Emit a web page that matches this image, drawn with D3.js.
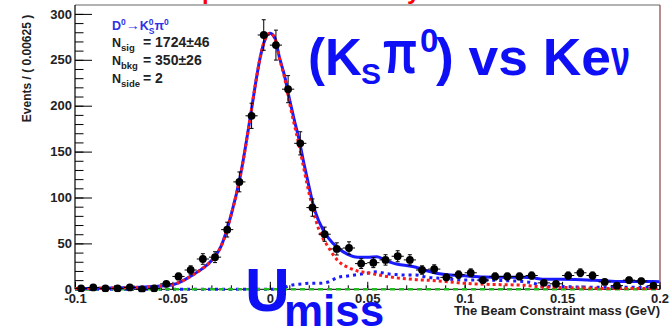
<!DOCTYPE html>
<html><head><meta charset="utf-8">
<script src="https://cdn.jsdelivr.net/npm/d3@7"></script>
<style>
body{margin:0;background:#fff;}
svg{display:block;font-family:"Liberation Sans",Arial,Helvetica,sans-serif;}
</style>
</head><body>
<svg id="c" width="670" height="333"></svg>
<script>
// ---------- data ----------
const binStart = -0.1;
const binWidth = 0.00625;
const counts = [1,2,1,1,2,0,1,6,14,21,33,35,65,117,189,277,266,218,159,89,60,44,45,28,29,32,36,32,21,22,13,16,18,10,14,14,14,15,7,6,15,18,15,8,4,10,9,4];

const curveX   = [-0.1,-0.09,-0.08,-0.07,-0.06,-0.05,-0.045,-0.04,-0.035,-0.03,-0.025,-0.02,-0.015,-0.01,-0.0075,-0.005,-0.0025,0,0.0025,0.005,0.0075,0.01,0.0125,0.015,0.0175,0.02,0.0225,0.025,0.03,0.035,0.04,0.045,0.05,0.055,0.06,0.065,0.07,0.075,0.08,0.09,0.1,0.11,0.12,0.13,0.135,0.14,0.15,0.16,0.17,0.18,0.19,0.2];
const totalFit = [1,1,1.5,2,3,5,9,15,22,31,47,80,125,188,222,252,272,279,274,252,233,208,185,163,137,113,90,75,56,45,38,35,35,35.5,31,27.5,26,24,20.5,16,14.7,13.5,13,13,12.5,11,11,10.5,9.5,8.5,8.5,8.3];
const signalFit= [1,1,1.5,2,3,5,9,15,22,31,47,80,125,188,222,252,272,279,274,251,231,204,180,157,131,106,84,66,46,31,24,20,18,16,14,12.5,11.5,10.5,10,8.5,6.5,5.5,5,4.5,3.5,2.5,2,1.5,1,1,1,1];
const bkgFit   = [0,0,0,0,0,0,0,0,0,0,0,0,0,0,0,0,0,0,0,0.5,2,4,5,5.5,6,6.5,6.5,6.5,8,13,14.5,16,17.5,19,17,16,15.5,15.5,13.5,11.5,10,10,9.5,8.5,7,3.6,3,2.5,2.2,2.2,2.2,2.2];
const flatX = [-0.1, 0.2];
const flatFit = [0, 0];

const xTicks = [-0.1,-0.05,0,0.05,0.1,0.15,0.2];
const xTickLabels = ["-0.1","-0.05","0","0.05","0.1","0.15","0.2"];
const yTicks = [0,50,100,150,200,250,300];
const yTickLabels = ["0","50","100","150","200","250","300"];

// ---------- setup ----------
const svg = d3.select("#c");
const FONT = '"Liberation Sans",Arial,Helvetica,sans-serif';
const x = d3.scaleLinear().domain([-0.1,0.2]).range([75,659.5]);
const y = d3.scaleLinear().domain([0,300]).range([289.3,13.9]);
const L = 75, R = 660, T = 5, B = 289.3;

svg.append("rect").attr("width",670).attr("height",333).attr("fill","#fff");

// red fragments of slide title (cut off at top)
svg.append("text").attr("x",202).attr("y",-1).attr("font-size",24).attr("font-weight","bold")
  .attr("fill","#ff0000").attr("font-family",FONT).text("p");
svg.append("text").attr("x",407).attr("y",-1).attr("font-size",24).attr("font-weight","bold")
  .attr("fill","#ff0000").attr("font-family",FONT).text("y");

// frame
svg.append("line").attr("x1",L).attr("x2",R).attr("y1",T).attr("y2",T).attr("stroke","#666").attr("stroke-width",1.2);
svg.append("line").attr("x1",R).attr("x2",R).attr("y1",T).attr("y2",B).attr("stroke","#8a4040").attr("stroke-width",1.2);

// clip
svg.append("clipPath").attr("id","clip").append("rect")
  .attr("x",L).attr("y",T).attr("width",R-L).attr("height",B-T+3);

// ---------- axes ----------
const gyMinor = svg.append("g").attr("transform",`translate(${L},0)`)
  .call(d3.axisLeft(y).tickValues(d3.range(0,301,10)).tickSize(-8.5).tickFormat(""));
gyMinor.select(".domain").remove();
const gy = svg.append("g").attr("transform",`translate(${L},0)`)
  .call(d3.axisLeft(y).tickValues(yTicks).tickFormat((d,i)=>yTickLabels[i]).tickSize(-17).tickPadding(3));
gy.select(".domain").remove();
gy.attr("font-size",13).attr("font-family",FONT).attr("font-weight","bold");
gy.selectAll("text").attr("fill","#222");

const gxMinor = svg.append("g").attr("transform",`translate(0,${B})`)
  .call(d3.axisBottom(x).tickValues(d3.range(0,31).map(i=>-0.1+i*0.01)).tickSize(-4).tickFormat(""));
gxMinor.select(".domain").remove();
const gx = svg.append("g").attr("transform",`translate(0,${B})`)
  .call(d3.axisBottom(x).tickValues(xTicks).tickFormat((d,i)=>xTickLabels[i]).tickSize(-7.5).tickPadding(4));
gx.select(".domain").remove();
gx.attr("font-size",13).attr("font-family",FONT).attr("font-weight","bold");
gx.selectAll("text").attr("fill","#222");

svg.append("line").attr("x1",L).attr("x2",L).attr("y1",T).attr("y2",B).attr("stroke","#000").attr("stroke-width",1.2);
svg.append("line").attr("x1",L).attr("x2",R).attr("y1",B).attr("y2",B).attr("stroke","#000").attr("stroke-width",1);

// axis titles
svg.append("text").attr("font-family",FONT).attr("font-weight","bold").attr("font-size",12).attr("fill","#222")
  .attr("text-anchor","middle").attr("transform","translate(31,68.5) rotate(-90)").text("Events / ( 0.00625 )");
svg.append("text").attr("font-family",FONT).attr("font-weight","bold").attr("font-size",13).attr("fill","#222")
  .attr("text-anchor","end").attr("x",660).attr("y",315).text("The Beam Constraint mass (GeV)");

// ---------- curves ----------
const gc = svg.append("g").attr("clip-path","url(#clip)");
const mk = (xs, ys) => xs.map((v,i)=>[v, ys[i]]);
const line = d3.line().x(d=>x(d[0])).y(d=>y(d[1])).curve(d3.curveMonotoneX);

gc.append("path").attr("d", line(mk(curveX,bkgFit))).attr("fill","none")
  .attr("stroke","#1a1aff").attr("stroke-width",3).attr("stroke-dasharray","3,4");
gc.append("path").attr("d", line(mk(flatX,flatFit))).attr("fill","none")
  .attr("stroke","#22bb22").attr("stroke-width",2.5).attr("stroke-dasharray","5,4");
gc.append("path").attr("d", line(mk(curveX,totalFit))).attr("fill","none")
  .attr("stroke","#1a1aff").attr("stroke-width",3);
gc.append("path").attr("d", line(mk(curveX,signalFit))).attr("fill","none")
  .attr("stroke","#ff1a1a").attr("stroke-width",3).attr("stroke-dasharray","3,3");

// ---------- data points ----------
const pts = counts.map((c,i)=>({x: binStart + (i+0.5)*binWidth, c: c, e: Math.sqrt(c)}));
const gp = svg.append("g").attr("clip-path","url(#clip)").attr("stroke","#000").attr("stroke-width",1);
gp.selectAll(".eh").data(pts).join("line")
  .attr("x1",d=>x(d.x-binWidth/2)).attr("x2",d=>x(d.x+binWidth/2))
  .attr("y1",d=>y(d.c)).attr("y2",d=>y(d.c));
gp.selectAll(".ev").data(pts).join("line")
  .attr("x1",d=>x(d.x)).attr("x2",d=>x(d.x))
  .attr("y1",d=>y(d.c-d.e)).attr("y2",d=>y(d.c+d.e));
gp.selectAll(".ct").data(pts).join("line")
  .attr("x1",d=>x(d.x)-2).attr("x2",d=>x(d.x)+2)
  .attr("y1",d=>y(d.c+d.e)).attr("y2",d=>y(d.c+d.e));
gp.selectAll(".cb").data(pts).join("line")
  .attr("x1",d=>x(d.x)-2).attr("x2",d=>x(d.x)+2)
  .attr("y1",d=>y(d.c-d.e)).attr("y2",d=>y(d.c-d.e));
svg.append("g").attr("clip-path","url(#clip)").selectAll("circle").data(pts).join("circle")
  .attr("cx",d=>x(d.x)).attr("cy",d=>y(d.c)).attr("r",3.9).attr("fill","#000");

// ---------- legend ----------
const BL = "#3030e6";
const lg = svg.append("g").attr("font-family",FONT).attr("font-weight","bold");
const t1 = lg.append("text").attr("x",112).attr("y",30).attr("fill",BL).attr("font-size",12.5);
t1.append("tspan").text("D");
t1.append("tspan").attr("font-size",8.5).attr("dy",-5).text("0");
t1.append("tspan").attr("dy",5).attr("font-size",14).text("\u2192");
t1.append("tspan").text("K");
t1.append("tspan").attr("font-size",8.5).attr("dy",-5).text("0");
t1.append("tspan").attr("font-size",8.5).attr("dx",-4.7).attr("dy",9).text("S");
t1.append("tspan").attr("dy",-4).text("\u03C0");
t1.append("tspan").attr("font-size",8.5).attr("dy",-5).text("0");

const rows = [["sig","= 1724\u00B146",47],["bkg","= 350\u00B126",65],["side","= 2",83]];
rows.forEach(r=>{
  const t = lg.append("text").attr("x",112).attr("y",r[2]).attr("fill","#222").attr("font-size",12.5);
  t.append("tspan").text("N");
  t.append("tspan").attr("font-size",9.5).attr("dy",4).text(r[0]);
  lg.append("text").attr("x",143).attr("y",r[2]).attr("fill","#222").attr("font-size",14).text(r[1]);
});

// ---------- big annotations ----------
const BIG = "#0f0ff5";
const big = svg.append("g").attr("fill",BIG).attr("font-family",FONT).attr("font-weight","bold");
big.append("text").attr("x",308).attr("y",75).attr("font-size",51).text("(K");
big.append("text").attr("x",361).attr("y",84).attr("font-size",30).text("S");
big.append("text").attr("x",383).attr("y",73).attr("font-size",62)
  .attr("textLength",34).attr("lengthAdjust","spacingAndGlyphs").text("\u03C0");
big.append("text").attr("x",420).attr("y",52).attr("font-size",33).text("0");
big.append("text").attr("x",436).attr("y",75).attr("font-size",52)
  .attr("textLength",175).attr("lengthAdjust","spacingAndGlyphs").text(") vs Ke");
big.append("text").attr("x",611).attr("y",75).attr("font-size",52)
  .attr("textLength",19).attr("lengthAdjust","spacingAndGlyphs").text("\u03BD");

svg.append("text").attr("x",245).attr("y",311).attr("fill",BIG).attr("font-family",FONT)
  .attr("font-weight","bold").attr("font-size",62).text("U");
svg.append("text").attr("x",284).attr("y",326).attr("fill",BIG).attr("font-family",FONT)
  .attr("font-weight","bold").attr("font-size",44).text("miss");
</script>
</body></html>
